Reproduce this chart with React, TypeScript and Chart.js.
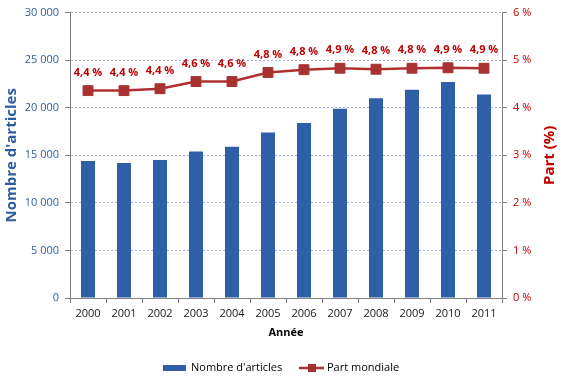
import React, { useEffect, useRef } from 'react';
import { Chart, registerables } from 'chart.js';

Chart.register(...registerables);

const years = ['2000', '2001', '2002', '2003', '2004', '2005', '2006', '2007', '2008', '2009', '2010', '2011'];
const articles = [14400, 14200, 14500, 15400, 15900, 17400, 18400, 19900, 21000, 21900, 22700, 21400];
const share = [4.36, 4.36, 4.4, 4.55, 4.55, 4.74, 4.8, 4.83, 4.81, 4.83, 4.84, 4.83];
const shareLabels = ['4,4 %', '4,4 %', '4,4 %', '4,6 %', '4,6 %', '4,8 %', '4,8 %', '4,9 %', '4,8 %', '4,8 %', '4,9 %', '4,9 %'];

const FONT = '"Open Sans", "Liberation Sans", sans-serif';
const BLUE = '#2F5FA6';
const BLUE_TEXT = '#2E5D9F';
const RED = '#B03030';
const RED_TEXT = '#C00000';

const fmt = (v: number) => String(v).replace(/\B(?=(\d{3})+(?!\d))/g, ' ');

const extras = {
  id: 'extras',
  afterDatasetsDraw(chart: any) {
    const ctx = chart.ctx;
    const meta = chart.getDatasetMeta(1);
    ctx.save();
    ctx.font = `bold 11px ${FONT}`;
    ctx.fillStyle = RED_TEXT;
    ctx.textAlign = 'center';
    ctx.textBaseline = 'middle';
    meta.data.forEach((p: any, i: number) => {
      ctx.fillText(shareLabels[i], p.x, p.y - 18);
    });
    ctx.restore();
  },
  afterDraw(chart: any) {
    const ctx = chart.ctx;
    const area = chart.chartArea;
    ctx.save();
    // right axis title
    ctx.translate(550, (area.top + area.bottom) / 2);
    ctx.rotate(-Math.PI / 2);
    ctx.font = `bold 15px ${FONT}`;
    ctx.fillStyle = RED_TEXT;
    ctx.textAlign = 'center';
    ctx.textBaseline = 'middle';
    ctx.fillText('Part (%)', 0, 0);
    ctx.restore();

    // legend
    ctx.save();
    const ly = 368;
    ctx.fillStyle = BLUE;
    ctx.fillRect(163, ly - 3, 23, 6);
    ctx.font = `11px ${FONT}`;
    ctx.fillStyle = '#000';
    ctx.textAlign = 'left';
    ctx.textBaseline = 'middle';
    ctx.fillText("Nombre d'articles", 191, ly);
    ctx.strokeStyle = RED;
    ctx.lineWidth = 2.5;
    ctx.beginPath();
    ctx.moveTo(299, ly);
    ctx.lineTo(324, ly);
    ctx.stroke();
    ctx.fillStyle = '#A83232';
    ctx.fillRect(308, ly - 4, 8, 8);
    ctx.fillStyle = '#000';
    ctx.fillText('Part mondiale', 327, ly);
    ctx.restore();
  },
};

export default function App() {
  const ref = useRef<HTMLCanvasElement>(null);
  useEffect(() => {
    if (!ref.current) return;
    const chart = new Chart(ref.current, {
      type: 'bar',
      data: {
        labels: years,
        datasets: [
          {
            type: 'bar',
            label: "Nombre d'articles",
            data: articles,
            backgroundColor: BLUE,
            yAxisID: 'y',
            barPercentage: 0.39,
            categoryPercentage: 1,
            order: 1,
          },
          {
            type: 'line',
            label: 'Part mondiale',
            data: share,
            borderColor: RED,
            backgroundColor: '#A83232',
            borderWidth: 2.5,
            pointStyle: 'rect',
            pointRadius: 7,
            pointBorderWidth: 1,
            pointBorderColor: '#A83232',
            pointBackgroundColor: '#A83232',
            yAxisID: 'y1',
            order: 0,
          } as any,
        ],
      },
      options: {
        responsive: false,
        animation: false,
        layout: { padding: { top: 10, left: 0, right: 0, bottom: 0 } },
        plugins: { legend: { display: false }, tooltip: { enabled: false } },
        scales: {
          x: {
            grid: { display: true, drawOnChartArea: false, drawTicks: true, tickLength: 5, color: '#808080', offset: true },
            border: { display: true, color: '#808080' },
            ticks: { color: '#1A1A1A', font: { family: FONT, size: 11 }, padding: 4, maxRotation: 0 },
            title: { display: true, text: 'Année', color: '#000', font: { family: FONT, size: 11, weight: 'bold' }, padding: { top: 4, bottom: 40 } },
            afterFit: (s: any) => { s.height = 81; },
          },
          y: {
            position: 'left',
            min: 0,
            max: 30000,
            ticks: { stepSize: 5000, color: BLUE_TEXT, font: { family: FONT, size: 11 }, padding: 6, callback: (v: any) => fmt(Number(v)) },
            grid: { color: '#A4B6E2', tickColor: '#808080', tickLength: 5, drawTicks: true },
            border: { display: true, color: '#808080', dash: [2, 2] },
            title: { display: true, text: "Nombre d'articles", color: BLUE_TEXT, font: { family: FONT, size: 15, weight: 'bold' }, padding: { top: 3, bottom: 0 } },
            afterFit: (s: any) => { s.width = 70; },
          },
          y1: {
            position: 'right',
            min: 0,
            max: 6,
            ticks: { stepSize: 1, color: RED_TEXT, font: { family: FONT, size: 11 }, padding: 6, callback: (v: any) => `${v} %` },
            grid: { drawOnChartArea: false, tickColor: '#808080', tickLength: 5 },
            border: { display: true, color: '#808080' },
            afterFit: (s: any) => { s.width = 63; },
          },
        },
      } as any,
      plugins: [extras],
    });
    return () => chart.destroy();
  }, []);
  return (
    <div style={{ position: 'absolute', left: 0, top: 0, width: 565, height: 379, background: '#fff' }}>
      <canvas ref={ref} width={565} height={379} />
    </div>
  );
}
